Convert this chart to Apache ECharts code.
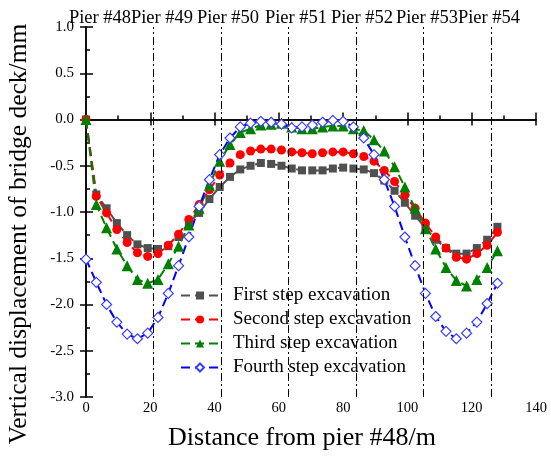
<!DOCTYPE html>
<html><head><meta charset="utf-8">
<script src="https://cdn.jsdelivr.net/npm/echarts@6/dist/echarts.min.js"></script>
<style>html,body{margin:0;padding:0;background:#fff}#c{width:551px;height:456px}</style>
</head><body><div id="c"></div>
<script>
const xDist = [0,3.2,6.4,9.6,12.8,16,19.2,22.4,25.6,28.8,32,35.2,38.4,41.6,44.8,48,51.2,54.4,57.6,60.8,64,67.2,70.4,73.6,76.8,80,83.2,86.4,89.6,92.8,96,99.2,102.4,105.6,108.8,112,115.2,118.4,121.6,124.8,128];
const firstStep = [0,-0.81,-0.96,-1.12,-1.25,-1.35,-1.39,-1.40,-1.37,-1.27,-1.11,-1.01,-0.86,-0.73,-0.62,-0.54,-0.50,-0.47,-0.48,-0.50,-0.53,-0.55,-0.55,-0.55,-0.53,-0.52,-0.53,-0.54,-0.58,-0.66,-0.77,-0.90,-1.04,-1.17,-1.30,-1.39,-1.45,-1.45,-1.39,-1.30,-1.16];
const secondStep = [0,-0.83,-1.01,-1.19,-1.33,-1.44,-1.48,-1.45,-1.36,-1.24,-1.08,-0.92,-0.76,-0.60,-0.47,-0.38,-0.34,-0.32,-0.32,-0.33,-0.35,-0.36,-0.37,-0.36,-0.35,-0.35,-0.37,-0.40,-0.45,-0.55,-0.67,-0.82,-0.96,-1.12,-1.27,-1.39,-1.49,-1.51,-1.45,-1.36,-1.22];
const thirdStep = [0,-0.92,-1.17,-1.40,-1.58,-1.73,-1.77,-1.73,-1.56,-1.37,-1.14,-0.96,-0.71,-0.45,-0.27,-0.14,-0.10,-0.06,-0.05,-0.04,-0.08,-0.10,-0.10,-0.08,-0.07,-0.07,-0.10,-0.12,-0.22,-0.34,-0.51,-0.73,-0.96,-1.18,-1.40,-1.60,-1.74,-1.80,-1.73,-1.60,-1.42];
const fourthStep = [-1.51,-1.76,-2.00,-2.19,-2.32,-2.37,-2.31,-2.14,-1.88,-1.58,-1.27,-0.94,-0.65,-0.38,-0.20,-0.08,-0.04,-0.02,-0.03,-0.05,-0.09,-0.08,-0.06,-0.03,-0.01,-0.02,-0.08,-0.20,-0.38,-0.65,-0.94,-1.27,-1.58,-1.88,-2.13,-2.29,-2.37,-2.31,-2.19,-1.99,-1.77];
const seriesNames = ['First step excavation','Second step excavation','Third step excavation','Fourth step excavation'];
const pierX = [21,42,63,84,105,126];
const pierLabels = ['Pier #48','Pier #49','Pier #50','Pier #51','Pier #52','Pier #53','Pier #54'];
const xTicks = [0,20,40,60,80,100,120,140];
const yTicks = [-3.0,-2.5,-2.0,-1.5,-1.0,-0.5,0.0,0.5,1.0];
const xTitle = 'Distance from pier #48/m';
const yTitle = 'Vertical displacement of bridge deck/mm';

const FONT = "'Liberation Serif','Times New Roman',serif";
const pairs = a => xDist.map((x,i)=>[x,a[i]]);
const dash = [9,5];
const chart = echarts.init(document.getElementById('c'));
const labelCenters = [100,162,228,296,362,427,489];
const graphics = pierLabels.map((t,i)=>({type:'text',x:labelCenters[i],y:9,style:{text:t,fill:'#000',font:"18.5px "+FONT,textAlign:'center'}}));
graphics.push({type:'text',x:302,y:438,style:{text:xTitle,fill:'#000',font:"26px "+FONT,textAlign:'center',textVerticalAlign:'middle'}});
graphics.push({type:'text',x:19,y:234,rotation:Math.PI/2,style:{text:yTitle,fill:'#000',font:"25.5px "+FONT,textAlign:'center',textVerticalAlign:'middle'}});
chart.setOption({
  animation:false,
  backgroundColor:'#fff',
  textStyle:{fontFamily:FONT},
  grid:{left:86,right:15,top:27,bottom:59},
  graphic: graphics,
  legend:{
    orient:'vertical',left:174,top:283,itemWidth:38,itemHeight:10,itemGap:5,
    backgroundColor:'#fff',padding:[3,6],
    textStyle:{fontSize:19,fontFamily:FONT,color:'#000',padding:[0,0,0,9]},
    data:seriesNames
  },
  xAxis:[{
    type:'value',min:0,max:140,interval:20,position:'bottom',
    axisLine:{lineStyle:{color:'#000',width:1.5}},
    axisTick:{inside:true,length:7,lineStyle:{width:1.5}},
    minorTick:{show:true,splitNumber:2,length:4,lineStyle:{color:'#000',width:1.5}},
    axisLabel:{fontSize:14.5,color:'#000',fontFamily:FONT,margin:4},
    splitLine:{show:false}
  },{
    type:'value',min:0,max:140,interval:20,position:'top',
    axisLine:{lineStyle:{color:'#000',width:1.5}},
    axisTick:{inside:true,length:6,lineStyle:{width:1.5}},
    axisLabel:{show:false},splitLine:{show:false}
  }],
  yAxis:[{
    type:'value',min:-3,max:1,interval:0.5,
    axisLine:{show:true,lineStyle:{color:'#000',width:1.5}},
    axisTick:{show:true,inside:true,length:7,lineStyle:{width:1.5}},
    minorTick:{show:true,splitNumber:2,length:4,lineStyle:{color:'#000',width:1.5}},
    axisLabel:{fontSize:15,color:'#000',fontFamily:FONT,margin:12,formatter:v=>v.toFixed(1)},
    splitLine:{show:false}
  },{
    type:'value',min:-3,max:1,interval:0.5,position:'right',
    axisLine:{show:true,lineStyle:{color:'#000',width:1.5}},
    axisTick:{show:true,inside:true,length:6,lineStyle:{width:1.5}},
    axisLabel:{show:false},splitLine:{show:false}
  }],
  series:[
    {name:seriesNames[0],type:'line',data:pairs(firstStep),symbol:'rect',symbolSize:8,
     itemStyle:{color:'#505050'},lineStyle:{color:'#505050',width:2,type:dash},
     markLine:{silent:true,symbol:['none','none'],label:{show:false},
       lineStyle:{color:'#000',width:1,type:[8,3,2,3]},
       data:pierX.map(x=>({xAxis:x}))}},
    {name:seriesNames[1],type:'line',data:pairs(secondStep),symbol:'circle',symbolSize:9,
     itemStyle:{color:'#ff0000'},lineStyle:{color:'#ff0000',width:2,type:dash}},
    {name:seriesNames[2],type:'line',data:pairs(thirdStep),symbol:'triangle',symbolSize:11,
     itemStyle:{color:'#008000'},lineStyle:{color:'#008000',width:2,type:dash}},
    {name:seriesNames[3],type:'line',data:pairs(fourthStep),symbol:'diamond',symbolSize:10,
     itemStyle:{color:'#fff',borderColor:'#3c3cff',borderWidth:1.2},lineStyle:{color:'#0000ff',width:2,type:dash}}
  ]
});
</script></body></html>
